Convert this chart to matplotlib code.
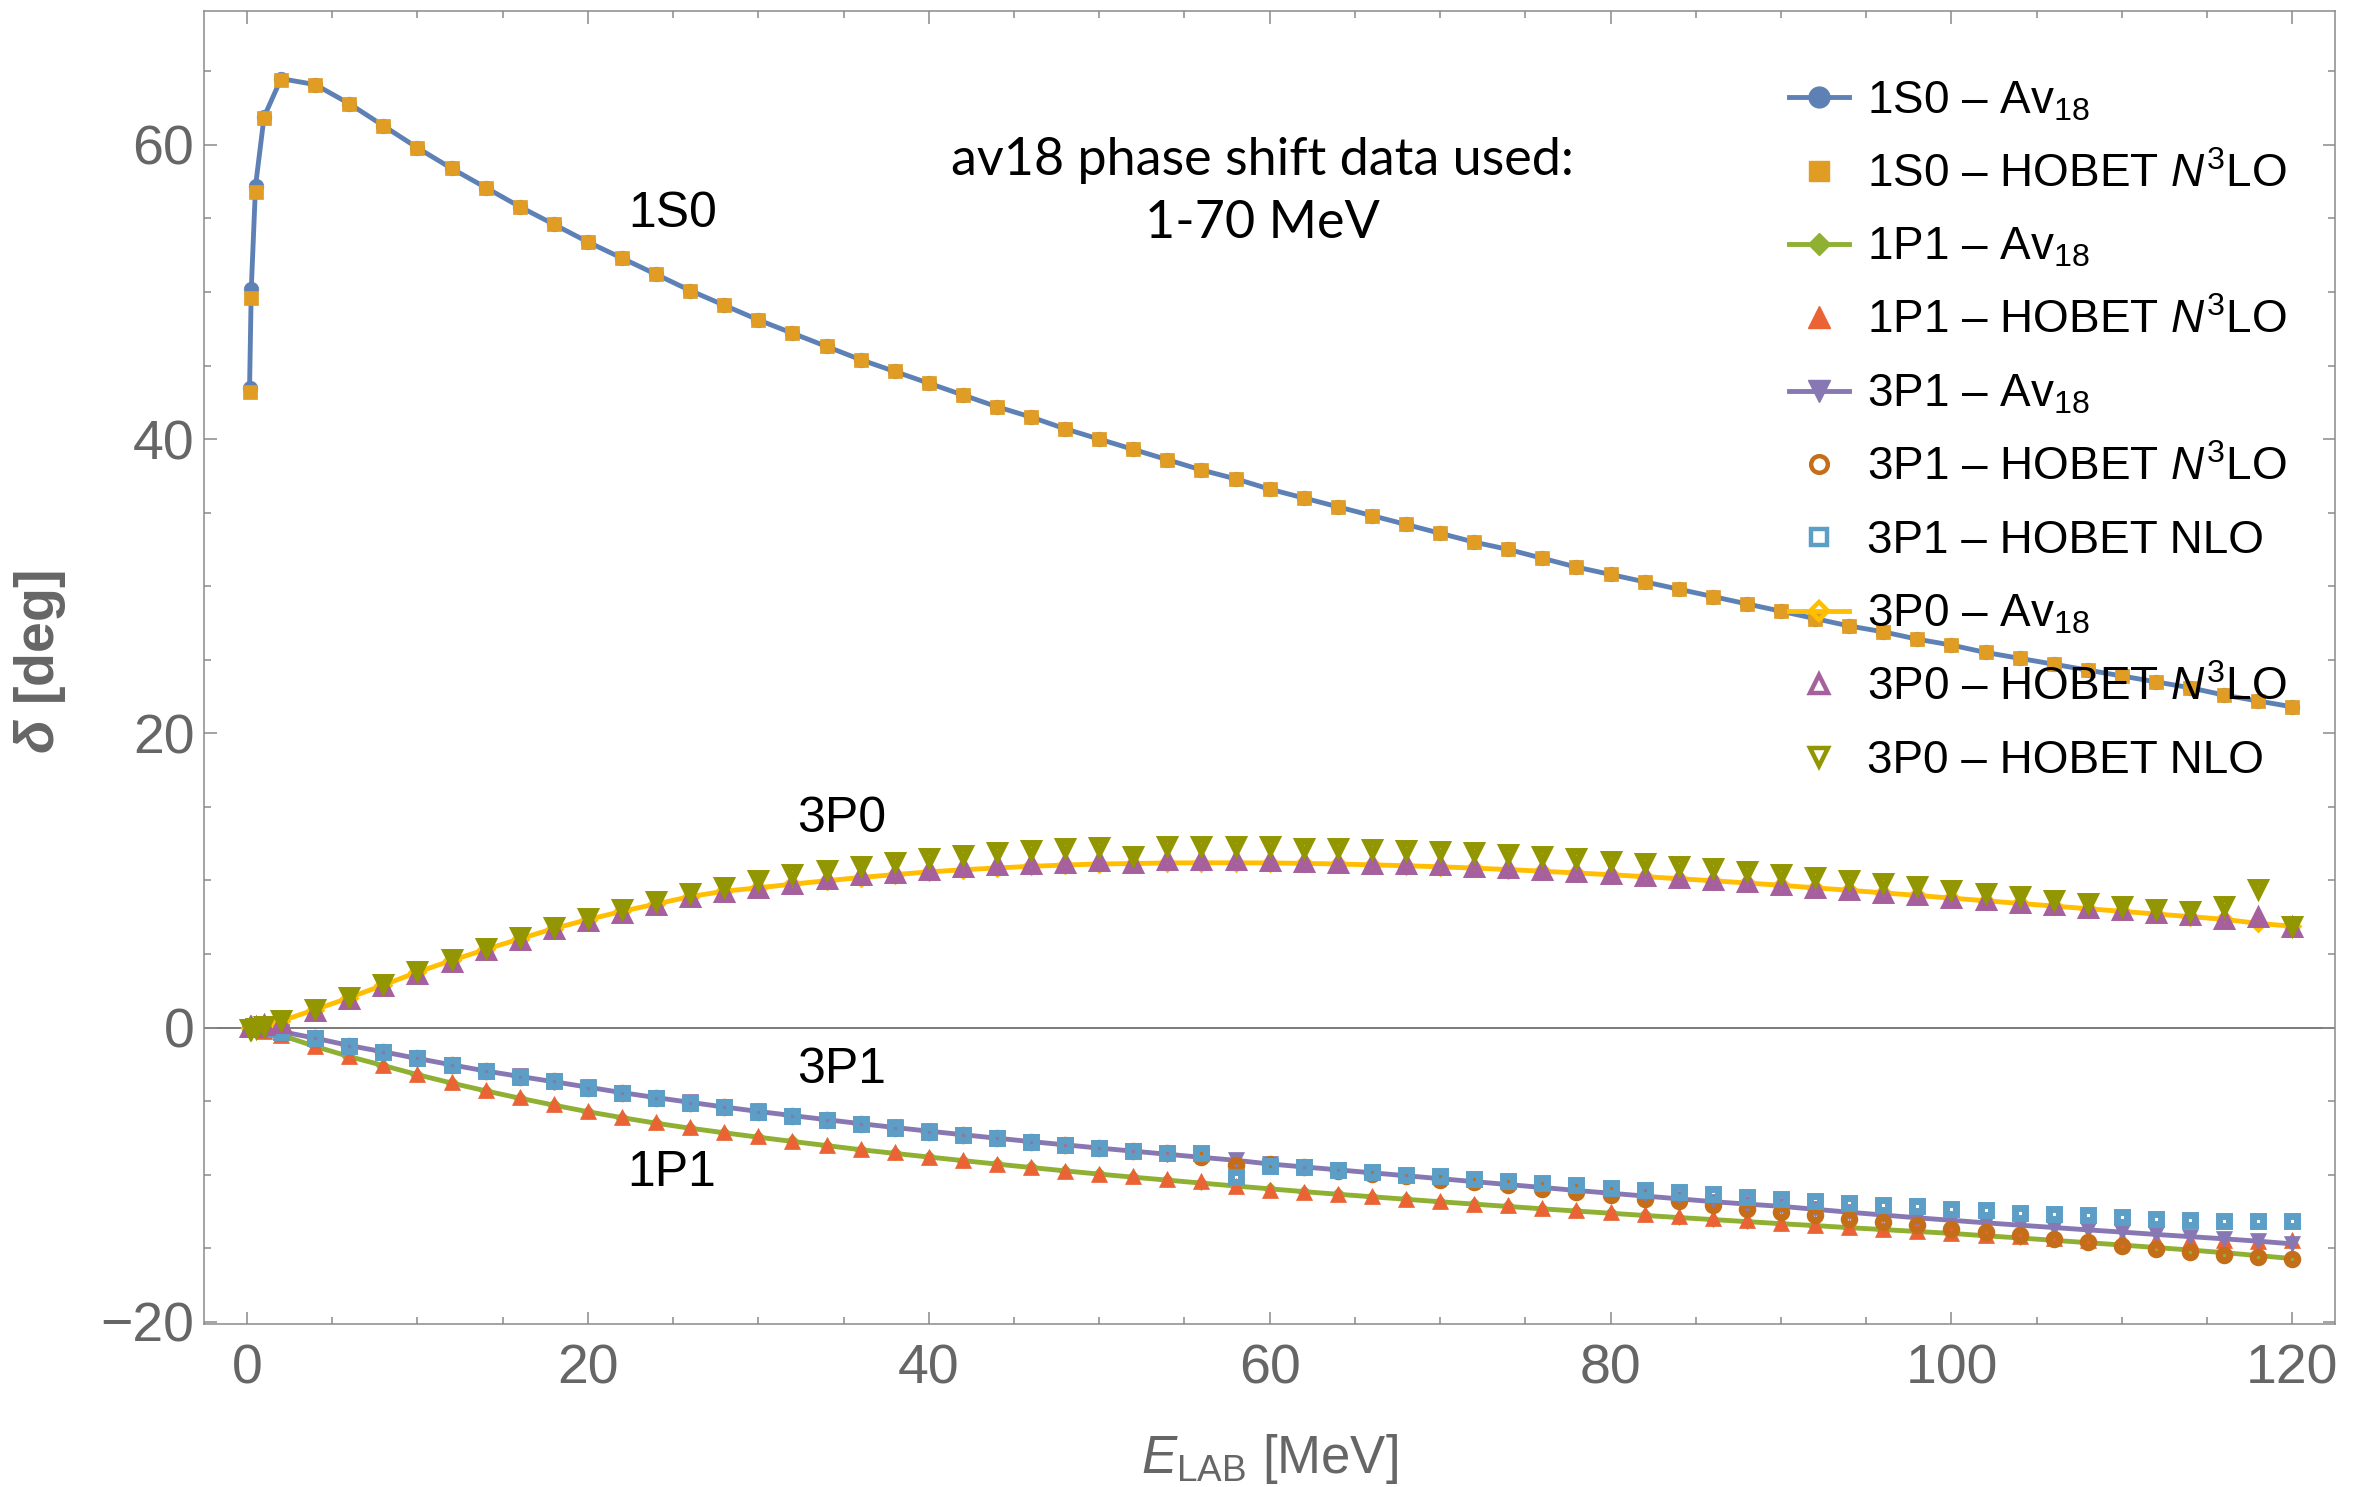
import numpy as np
import matplotlib
matplotlib.use("Agg")
import matplotlib.pyplot as plt
from matplotlib.lines import Line2D
from matplotlib.ticker import MultipleLocator

plt.rcParams['font.family'] = ['Liberation Sans', 'DejaVu Sans']
plt.rcParams['mathtext.fontset'] = 'custom'
plt.rcParams['mathtext.rm'] = 'Liberation Sans'
plt.rcParams['mathtext.it'] = 'Liberation Sans:italic'
plt.rcParams['mathtext.bf'] = 'Liberation Sans:italic:bold'

# lab energies (MeV): a few low-energy points, then every 2 MeV
e_low = [0.15, 0.25, 0.5, 1.0]
energy = np.concatenate([e_low, np.arange(2, 122, 2)])

# phase shifts (deg)
s1s0_av18 = [43.5, 50.2, 57.2, 61.9,
             64.5, 64.1, 62.8, 61.3, 59.8, 58.4, 57.1, 55.8, 54.6, 53.4,
             52.3, 51.2, 50.1, 49.1, 48.1, 47.2, 46.3, 45.4, 44.6, 43.8,
             43.0, 42.2, 41.5, 40.7, 40.0, 39.3, 38.6, 37.9, 37.3, 36.6,
             36.0, 35.4, 34.8, 34.2, 33.6, 33.0, 32.5, 31.9, 31.3, 30.8,
             30.3, 29.8, 29.3, 28.8, 28.3, 27.8, 27.3, 26.9, 26.4, 26.0,
             25.5, 25.1, 24.7, 24.3, 23.9, 23.5, 23.1, 22.6, 22.2, 21.8]
s1s0_n3lo = [43.2, 49.6, 56.8, 61.8,
             64.4, 64.1, 62.8, 61.3, 59.8, 58.4, 57.1, 55.8, 54.6, 53.4,
             52.3, 51.2, 50.1, 49.1, 48.1, 47.2, 46.3, 45.4, 44.6, 43.8,
             43.0, 42.2, 41.5, 40.7, 40.0, 39.3, 38.6, 37.9, 37.3, 36.6,
             36.0, 35.4, 34.8, 34.2, 33.6, 33.0, 32.5, 31.9, 31.3, 30.8,
             30.3, 29.8, 29.3, 28.8, 28.3, 27.8, 27.3, 26.9, 26.4, 26.0,
             25.5, 25.1, 24.7, 24.3, 23.9, 23.5, 23.1, 22.6, 22.2, 21.8]

p1p1_av18 = [0.0, -0.03, -0.08, -0.2,
             -0.52, -1.28, -1.97, -2.58, -3.2, -3.77, -4.3, -4.8, -5.27, -5.72,
             -6.12, -6.5, -6.84, -7.15, -7.45, -7.74, -8.02, -8.3, -8.55, -8.8,
             -9.04, -9.28, -9.51, -9.74, -9.96, -10.17, -10.37, -10.57, -10.77, -10.96,
             -11.15, -11.33, -11.5, -11.67, -11.84, -12.0, -12.16, -12.32, -12.47, -12.62,
             -12.77, -12.91, -13.05, -13.19, -13.33, -13.46, -13.6, -13.73, -13.86, -13.99,
             -14.15, -14.3, -14.46, -14.62, -14.78, -14.95, -15.12, -15.3, -15.5, -15.7]
p1p1_n3lo = [0.0, -0.03, -0.08, -0.2,
             -0.5, -1.24, -1.92, -2.53, -3.16, -3.73, -4.25, -4.75, -5.2, -5.65,
             -6.06, -6.44, -6.78, -7.07, -7.38, -7.68, -7.95, -8.25, -8.47, -8.77,
             -8.99, -9.27, -9.49, -9.72, -9.94, -10.12, -10.3, -10.44, -10.8, -11.03,
             -11.19, -11.3, -11.46, -11.64, -11.8, -11.98, -12.09, -12.25, -12.43, -12.54,
             -12.7, -12.84, -12.93, -13.1, -13.29, -13.45, -13.56, -13.67, -13.83, -13.97,
             -14.12, -14.19, -14.28, -14.42, -14.38, -14.45, -14.45, -14.45, -14.5, -14.45]

p3p1_av18 = [0.0, -0.02, -0.05, -0.12,
             -0.27, -0.72, -1.22, -1.65, -2.1, -2.53, -2.95, -3.32, -3.68, -4.05,
             -4.42, -4.76, -5.08, -5.4, -5.7, -5.98, -6.26, -6.53, -6.79, -7.04,
             -7.28, -7.52, -7.75, -7.97, -8.19, -8.4, -8.61, -8.82, -9.02, -9.27,
             -9.47, -9.67, -9.87, -10.07, -10.27, -10.47, -10.67, -10.87, -11.07, -11.26,
             -11.45, -11.64, -11.83, -12.0, -12.15, -12.35, -12.55, -12.74, -12.93, -13.1,
             -13.27, -13.43, -13.59, -13.75, -13.9, -14.06, -14.21, -14.36, -14.52, -14.7]
p3p1_n3lo = [0.0, -0.02, -0.05, -0.12,
             -0.27, -0.72, -1.24, -1.65, -2.1, -2.55, -2.98, -3.34, -3.66, -4.1,
             -4.45, -4.79, -5.1, -5.42, -5.72, -5.99, -6.28, -6.55, -6.82, -7.07,
             -7.28, -7.53, -7.75, -7.98, -8.2, -8.4, -8.54, -8.8, -9.33, -9.3,
             -9.5, -9.72, -9.94, -10.1, -10.35, -10.5, -10.73, -10.96, -11.19, -11.4,
             -11.64, -11.8, -12.09, -12.3, -12.54, -12.77, -13.0, -13.22, -13.45, -13.67,
             -13.9, -14.08, -14.35, -14.58, -14.87, -15.03, -15.25, -15.48, -15.59, -15.75]
p3p1_nlo = [0.0, -0.02, -0.05, -0.12,
            -0.27, -0.72, -1.24, -1.65, -2.1, -2.55, -2.98, -3.34, -3.66, -4.1,
            -4.45, -4.79, -5.1, -5.42, -5.72, -5.99, -6.28, -6.55, -6.82, -7.07,
            -7.28, -7.53, -7.75, -7.98, -8.2, -8.4, -8.54, -8.52, -10.17, -9.42,
            -9.49, -9.67, -9.83, -9.99, -10.12, -10.28, -10.44, -10.58, -10.73, -10.9,
            -11.07, -11.19, -11.34, -11.5, -11.64, -11.8, -11.93, -12.05, -12.14, -12.32,
            -12.43, -12.59, -12.66, -12.77, -12.88, -12.99, -13.11, -13.15, -13.18, -13.15]

p3p0_av18 = [0.0, 0.0, 0.02, 0.1,
             0.45, 1.22, 2.03, 2.89, 3.77, 4.56, 5.31, 6.03, 6.73, 7.34,
             7.9, 8.4, 8.9, 9.27, 9.5, 9.75, 9.98, 10.2, 10.4, 10.58,
             10.73, 10.85, 10.96, 11.05, 11.12, 11.15, 11.19, 11.2, 11.2, 11.19,
             11.16, 11.12, 11.06, 11.0, 10.93, 10.84, 10.74, 10.63, 10.51, 10.39,
             10.26, 10.12, 9.98, 9.83, 9.67, 9.5, 9.33, 9.16, 8.98, 8.8,
             8.62, 8.44, 8.26, 8.08, 7.9, 7.72, 7.54, 7.36, 7.08, 6.89]
p3p0_n3lo = [0.0, 0.0, 0.0, 0.1,
             0.27, 1.06, 1.85, 2.76, 3.6, 4.4, 5.2, 5.9, 6.6, 7.2,
             7.7, 8.25, 8.8, 9.15, 9.45, 9.7, 10.0, 10.3, 10.46, 10.67,
             10.85, 10.96, 11.07, 11.14, 11.23, 11.14, 11.3, 11.3, 11.3, 11.23,
             11.19, 11.14, 11.07, 11.03, 10.96, 10.85, 10.76, 10.62, 10.5, 10.4,
             10.24, 10.12, 9.94, 9.8, 9.6, 9.45, 9.27, 9.08, 8.93, 8.77,
             8.59, 8.4, 8.25, 8.09, 7.9, 7.73, 7.57, 7.34, 7.46, 6.78]
p3p0_nlo = [0.0, 0.0, 0.05, 0.2,
            0.56, 1.36, 2.15, 3.05, 3.89, 4.7, 5.49, 6.2, 6.9, 7.5,
            8.1, 8.7, 9.2, 9.6, 10.1, 10.5, 10.8, 11.07, 11.34, 11.57,
            11.8, 11.98, 12.14, 12.25, 12.36, 11.7, 12.43, 12.43, 12.43, 12.4,
            12.3, 12.27, 12.2, 12.16, 12.07, 11.98, 11.86, 11.7, 11.57, 11.41,
            11.25, 11.07, 10.9, 10.73, 10.5, 10.33, 10.12, 9.9, 9.67, 9.45,
            9.22, 9.0, 8.77, 8.54, 8.32, 8.14, 8.02, 8.32, 9.49, 7.0]

labels = ["1S0 – Av$_{18}$", "1S0 – HOBET $N^3$LO",
          "1P1 – Av$_{18}$", "1P1 – HOBET $N^3$LO",
          "3P1 – Av$_{18}$", "3P1 – HOBET $N^3$LO", "3P1 – HOBET NLO",
          "3P0 – Av$_{18}$", "3P0 – HOBET $N^3$LO", "3P0 – HOBET NLO"]
colors = ['#5E81B5', '#E19C24', '#8FB032', '#EB6235', '#8778B3',
          '#C56E1A', '#5D9EC7', '#FFBF00', '#A5609D', '#929600']

# (values, marker, hollow, with line)
series = [(s1s0_av18, 'o', False, True), (s1s0_n3lo, 's', False, False),
          (p1p1_av18, 'D', False, True), (p1p1_n3lo, '^', False, False),
          (p3p1_av18, 'v', False, True), (p3p1_n3lo, 'o', True, False),
          (p3p1_nlo, 's', True, False), (p3p0_av18, 'D', True, True),
          (p3p0_n3lo, '^', True, False), (p3p0_nlo, 'v', True, False)]

plot_ms = {'o': 10.5, 's': 10.5, 'D': 7.5, '^': 12, 'v': 12}
hollow_ms = {'o': 7.6, 's': 7.6, 'D': 5.5, '^': 9, 'v': 9}
legend_ms = {'o': 15, 's': 15, 'D': 11, '^': 16, 'v': 16}

fig = plt.figure(figsize=(23.59, 14.87), dpi=100)
ax = fig.add_axes([0.0865, 0.1096, 0.9033, 0.883])

ax.axhline(0, color='#707070', lw=1.3, zorder=0.5)

handles = []
for i, ((vals, mk, hollow, line), c) in enumerate(zip(series, colors)):
    ls = '-' if line else 'none'
    if hollow:
        ax.plot(energy, vals, ls=ls, lw=3.5, color=c, marker=mk,
                ms=hollow_ms[mk], mfc='none', mec=c, mew=5.0, zorder=2 + i)
        h = Line2D([], [], ls=ls, lw=3.5, color=c, marker=mk,
                   ms=legend_ms[mk] * 0.8, mfc='none', mec=c, mew=3.2)
    else:
        ax.plot(energy, vals, ls=ls, lw=3.5, color=c, marker=mk,
                ms=plot_ms[mk], mec=c, mew=0.5, zorder=2 + i)
        h = Line2D([], [], ls=ls, lw=3.5, color=c, marker=mk,
                   ms=legend_ms[mk], mec=c)
    handles.append(h)

ax.set_xlim(-2.52, 122.5)
ax.set_ylim(-20.15, 69.1)
ax.xaxis.set_major_locator(MultipleLocator(20))
ax.xaxis.set_minor_locator(MultipleLocator(5))
ax.yaxis.set_major_locator(MultipleLocator(20))
ax.yaxis.set_minor_locator(MultipleLocator(5))
ax.tick_params(which='both', direction='in', top=True, right=True,
               color='#8a8a8a', width=1.1, labelcolor='#666666', labelsize=40)
ax.tick_params(which='major', length=9)
ax.tick_params(which='minor', length=5)
ax.tick_params(axis='x', pad=14)
ax.tick_params(axis='y', pad=7)
for sp in ax.spines.values():
    sp.set_color('#8a8a8a')
    sp.set_linewidth(1.1)

ax.set_xlabel("$E_{\\mathrm{LAB}}$ [MeV]", fontsize=38, color='#666666')
ax.xaxis.set_label_coords(0.5, -0.082)
ax.set_ylabel("$\\mathbf{\\delta}$ [deg]", fontsize=40, color='#666666',
              fontweight='bold')
ax.yaxis.set_label_coords(-0.064, 0.504)

for txt, x, y in [("1S0", 25.0, 55.3), ("3P0", 34.9, 14.2),
                  ("3P1", 34.9, -2.85), ("1P1", 24.9, -9.9)]:
    ax.text(x, y, txt, fontsize=36, ha='center', va='center', color='black',
            zorder=20)

ax.text(59.6, 56.8, "av18 phase shift data used:\n1-70 MeV", fontsize=37.5,
        family=['Lato', 'DejaVu Sans'], ha='center', va='center',
        linespacing=1.4, zorder=20)

leg = ax.legend(handles, labels, loc='upper left', bbox_to_anchor=(0.744, 0.948),
                frameon=False, fontsize=33, handlelength=1.3, handletextpad=0.4,
                labelspacing=0.64, borderpad=0, borderaxespad=0)
leg.set_zorder(30)

fig.savefig("out.png", dpi=100)
